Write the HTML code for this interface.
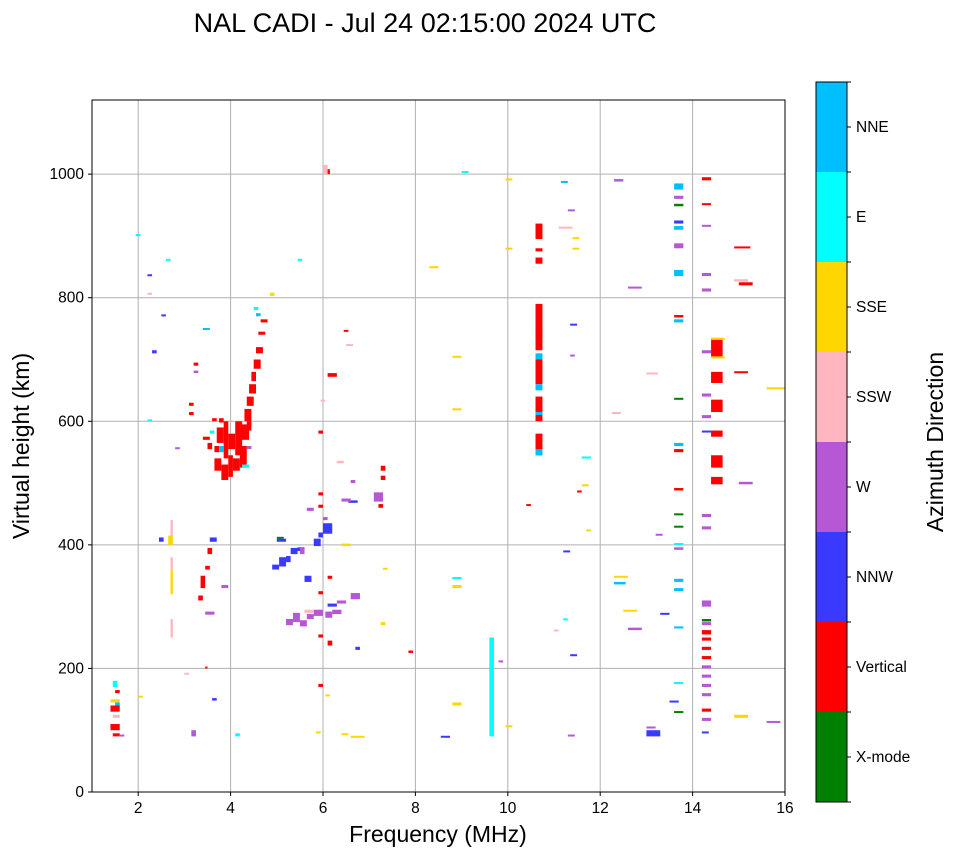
<!DOCTYPE html>
<html><head><meta charset="utf-8"><style>
body{margin:0;background:#fff;font-family:"Liberation Sans",sans-serif;}
svg text{font-family:"Liberation Sans",sans-serif;}
</style></head><body>
<svg id="chart" width="958" height="857" xmlns="http://www.w3.org/2000/svg">
<text x="425" y="32" font-size="27" text-anchor="middle">NAL CADI - Jul 24 02:15:00 2024 UTC</text>
<g id="grid"></g>
<g id="marks"></g>
<rect x="92" y="100" width="693" height="692" fill="none" stroke="#000" stroke-width="1"/>
<g id="axes"></g>
<text x="438" y="842" font-size="23" text-anchor="middle">Frequency (MHz)</text>
<text transform="translate(29,446) rotate(-90)" font-size="23" text-anchor="middle">Virtual height (km)</text>
<g id="colorbar"></g>
<text transform="translate(943,442) rotate(-90)" font-size="23" text-anchor="middle">Azimuth Direction</text>
</svg>
<script>
const xTicks=[2,4,6,8,10,12,14,16];
const yTicks=[0,200,400,600,800,1000];
const dirNames=["X-mode","Vertical","NNW","W","SSW","SSE","E","NNE"];
const dirColors=["#008000","#ff0000","#3a3aff","#b657d6","#ffb6c1","#ffd700","#00ffff","#00bfff"];
const xmode=[[13.6,13.8,128,131],[13.6,13.8,448,451],[13.6,13.8,428,431],[13.6,13.8,635,638],[13.6,13.8,948,952],[14.2,14.4,276,280],[10.6,10.75,740,750],[5.0,5.15,410,413],[5.4,5.55,392,395]];
const vertical=[[3.65,3.8,520,540],[3.65,3.75,550,560],[3.7,3.85,565,590],[3.8,3.95,505,530],[3.85,3.95,540,600],[3.95,4.05,510,545],[3.95,4.1,555,580],[4.05,4.2,520,540],[4.1,4.25,545,600],[4.2,4.35,525,560],[4.2,4.4,570,595],[4.3,4.45,600,620],[4.35,4.5,625,640],[4.4,4.55,645,660],[4.45,4.55,665,680],[4.5,4.65,685,700],[4.35,4.45,585,600],[3.75,3.85,598,605],[4.55,4.7,710,720],[4.6,4.75,740,745],[4.65,4.8,760,765],[3.4,3.55,570,575],[3.5,3.6,555,565],[3.6,3.7,600,605],[3.35,3.45,330,350],[3.5,3.6,385,395],[3.3,3.4,310,318],[3.45,3.55,360,366],[3.1,3.2,610,615],[3.1,3.2,625,630],[3.2,3.3,690,695],[3.45,3.5,200,203],[1.4,1.6,130,140],[1.4,1.6,100,110],[1.45,1.6,90,95],[1.5,1.6,160,165],[5.9,6.0,580,585],[5.9,6.0,480,485],[5.9,6.0,460,465],[5.9,6.0,320,325],[5.9,6.0,250,255],[5.9,6.0,170,175],[6.05,6.15,1000,1008],[6.1,6.2,345,350],[6.1,6.2,237,245],[6.1,6.3,672,678],[6.45,6.55,745,748],[7.25,7.35,520,528],[7.25,7.35,505,512],[7.2,7.3,460,466],[7.85,7.95,225,229],[10.4,10.5,463,466],[10.6,10.75,545,580],[10.6,10.75,600,640],[10.6,10.75,660,700],[10.6,10.75,715,790],[10.6,10.75,855,865],[10.6,10.75,875,880],[10.6,10.75,895,920],[11.5,11.6,485,488],[13.6,13.8,768,772],[13.6,13.8,550,555],[13.6,13.8,488,492],[14.2,14.4,990,995],[14.2,14.4,950,953],[14.2,14.4,255,262],[14.2,14.4,230,235],[14.2,14.4,215,220],[14.2,14.4,245,250],[14.2,14.4,130,135],[14.4,14.65,705,735],[14.4,14.65,662,680],[14.4,14.65,615,635],[14.4,14.65,575,585],[14.4,14.65,525,545],[14.4,14.65,498,510],[14.9,15.25,880,883],[15.0,15.3,820,825],[14.9,15.2,678,681]];
const nnw=[[5.8,5.95,398,410],[5.9,6.0,412,420],[6.0,6.2,418,435],[4.9,5.05,360,368],[5.05,5.2,365,380],[5.2,5.3,372,382],[5.3,5.45,385,395],[5.45,5.6,390,396],[5.0,5.2,405,410],[5.6,5.75,340,350],[3.55,3.7,405,412],[2.45,2.55,405,412],[2.3,2.4,710,715],[2.2,2.3,835,838],[2.5,2.6,770,773],[3.6,3.7,148,152],[8.55,8.75,88,91],[11.2,11.35,388,391],[11.35,11.5,220,223],[11.35,11.5,755,758],[13.0,13.3,90,100],[13.3,13.5,287,290],[13.5,13.7,145,148],[14.2,14.35,95,98],[14.2,14.4,582,585],[13.6,13.8,920,925],[6.55,6.75,468,472],[6.1,6.3,300,305],[6.7,6.8,230,235]];
const west=[[5.2,5.35,270,280],[5.35,5.5,275,290],[5.5,5.65,268,278],[5.65,5.8,280,288],[5.8,6.0,285,295],[6.05,6.2,282,292],[6.2,6.4,288,295],[6.6,6.8,312,322],[6.3,6.5,305,310],[6.0,6.1,440,445],[6.4,6.6,470,475],[6.6,6.7,500,505],[5.65,5.8,455,460],[5.5,5.6,385,395],[7.1,7.3,470,485],[3.8,3.95,330,335],[3.45,3.65,287,292],[3.15,3.25,90,100],[4.35,4.45,555,560],[12.6,12.9,815,818],[12.6,12.9,262,266],[12.3,12.5,988,992],[13.0,13.2,103,106],[13.2,13.35,415,418],[15.0,15.3,498,502],[15.6,15.9,112,115],[9.8,9.9,210,213],[11.3,11.45,90,93],[13.6,13.8,880,888],[13.6,13.8,392,396],[13.6,13.8,960,965],[14.2,14.4,200,205],[14.2,14.4,185,190],[14.2,14.4,170,175],[14.2,14.4,155,160],[14.2,14.4,115,120],[14.2,14.4,300,310],[14.2,14.4,270,275],[14.2,14.4,425,430],[14.2,14.4,445,450],[14.2,14.4,605,610],[14.2,14.4,640,645],[14.2,14.4,710,715],[14.2,14.4,810,815],[14.2,14.4,835,840],[14.2,14.4,915,918],[11.35,11.45,705,708],[11.3,11.45,940,943],[2.8,2.9,555,558],[3.2,3.3,678,682],[1.6,1.7,90,93]];
const ssw=[[2.7,2.75,250,280],[2.7,2.75,360,380],[2.7,2.75,415,440],[6.0,6.1,1000,1015],[6.5,6.65,722,725],[6.3,6.45,532,536],[5.6,5.8,290,295],[12.25,12.45,612,615],[13.0,13.25,676,679],[14.9,15.2,826,830],[11.1,11.4,912,915],[11.0,11.1,260,263],[5.95,6.05,632,635],[2.2,2.3,805,808],[1.45,1.6,120,125],[3.0,3.1,190,193]];
const sse=[[2.7,2.75,320,360],[2.65,2.75,400,415],[12.3,12.6,347,350],[12.5,12.8,292,295],[8.8,9.0,330,335],[8.8,9.0,140,145],[8.3,8.5,848,851],[8.8,9.0,703,706],[8.8,9.0,618,621],[14.4,14.7,732,735],[14.4,14.7,702,705],[14.9,15.2,120,125],[15.6,16.0,652,655],[11.4,11.55,878,881],[11.4,11.55,895,898],[11.6,11.75,495,498],[11.7,11.8,422,425],[6.4,6.6,398,402],[6.6,6.9,88,91],[6.4,6.55,92,95],[4.85,4.95,803,808],[1.4,1.6,145,150],[2.0,2.1,153,156],[7.3,7.4,360,363],[5.85,5.95,95,98],[9.95,10.1,990,993],[9.95,10.1,878,881],[9.95,10.1,105,108],[7.25,7.35,270,275],[6.05,6.15,155,158]];
const east=[[9.6,9.7,90,250],[1.45,1.55,170,180],[2.2,2.3,600,603],[4.5,4.6,780,785],[4.1,4.2,90,95],[2.6,2.7,860,863],[1.95,2.05,900,903],[8.8,9.0,345,348],[9.0,9.15,1002,1005],[13.6,13.8,175,178],[13.6,13.8,400,403],[11.6,11.8,540,543],[11.2,11.3,278,281],[5.45,5.55,860,863],[4.25,4.4,525,530],[3.55,3.65,580,585]];
const nne=[[10.6,10.75,545,555],[10.6,10.75,610,615],[10.6,10.75,700,710],[10.6,10.75,650,660],[13.6,13.8,975,985],[13.6,13.8,910,916],[13.6,13.8,835,845],[13.6,13.8,760,765],[13.6,13.8,560,565],[13.6,13.8,340,345],[13.6,13.8,325,330],[13.6,13.8,265,268],[12.3,12.55,336,340],[3.4,3.55,748,751],[1.5,1.6,140,145],[3.75,3.85,550,560],[4.55,4.65,770,775],[11.15,11.3,986,989]];
const series=[xmode,vertical,nnw,west,ssw,sse,east,nne];

const NS="http://www.w3.org/2000/svg";
const X0=92,X1=785,Y0=792,Y1=100,FMIN=1,FMAX=16,HMIN=0,HMAX=1120;
function xs(f){return X0+(f-FMIN)/(FMAX-FMIN)*(X1-X0);}
function ys(h){return Y0-(h-HMIN)/(HMAX-HMIN)*(Y0-Y1);}
function mk(tag,attrs,parent){const e=document.createElementNS(NS,tag);for(const k in attrs)e.setAttribute(k,attrs[k]);parent.appendChild(e);return e;}
const grid=document.getElementById('grid'),axes=document.getElementById('axes'),marks=document.getElementById('marks'),cb=document.getElementById('colorbar');
xTicks.forEach(t=>{const x=xs(t);
 const g=mk('line',{x1:x,x2:x,y1:Y1,y2:Y0,stroke:'#b0b0b0','stroke-width':1},grid);
 
 
 const tk=mk('line',{x1:x,x2:x,y1:Y0,y2:Y0+4,stroke:'#000'},axes);
 
 
 const l=mk('text',{x:x,y:Y0+21,'font-size':15.5,'text-anchor':'middle'},axes);l.textContent=t;
 
 
});
yTicks.forEach(t=>{const y=ys(t);
 const g=mk('line',{x1:X0,x2:X1,y1:y,y2:y,stroke:'#b0b0b0','stroke-width':1},grid);
 
 
 const tk=mk('line',{x1:X0-4,x2:X0,y1:y,y2:y,stroke:'#000'},axes);
 
 
 const l=mk('text',{x:X0-8,y:y+5,'font-size':15.5,'text-anchor':'end'},axes);l.textContent=t;
 
 
});
series.forEach((arr,d)=>{arr.forEach(r=>{
 const x=xs(r[0]),w=Math.max(2,xs(r[1])-x),y=ys(r[3]),h=Math.max(2,ys(r[2])-y);
 const e=mk('rect',{x:x,y:y,width:w,height:h,fill:dirColors[d]},marks);
 
 
});});
const CX=816,CW=31,CT=82,CB=802,seg=(CB-CT)/dirNames.length;
dirNames.forEach((n,i)=>{const y=CB-(i+1)*seg;
 const r=mk('rect',{x:CX,y:y,width:CW,height:seg,fill:dirColors[i]},cb);
 
 
 const tk=mk('line',{x1:CX+CW,x2:CX+CW+4,y1:y+seg/2,y2:y+seg/2,stroke:'#000'},cb);
 
 
 const l=mk('text',{x:CX+CW+9,y:y+seg/2+5,'font-size':15.5},cb);l.textContent=n;
 
 
});
for(let i=0;i<=dirNames.length;i++){const y=CB-i*seg;
 const t=mk('line',{x1:CX+CW,x2:CX+CW+4,y1:y,y2:y,stroke:'#000'},cb);
 
 }
const fr=mk('rect',{x:CX,y:CT,width:CW,height:CB-CT,fill:'none',stroke:'#000'},cb);


</script>
</body></html>
